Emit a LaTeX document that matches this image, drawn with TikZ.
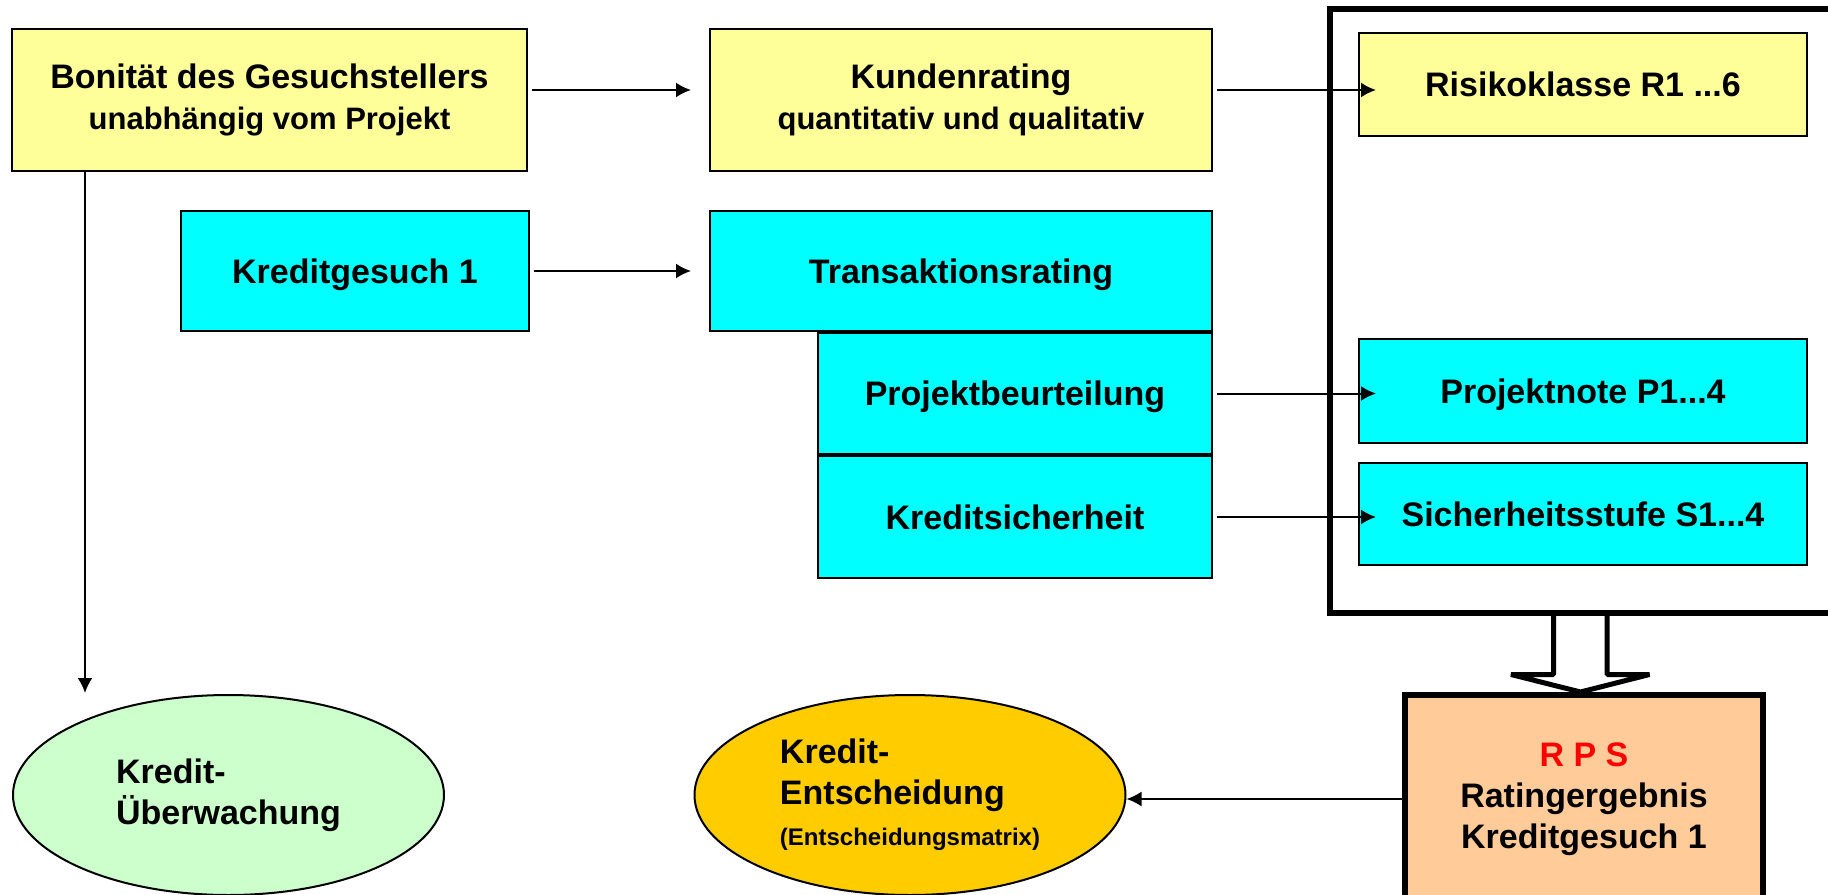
\documentclass[tikz,border=0pt]{standalone}
\usepackage{fontspec}
\setmainfont{Liberation Sans}
\usetikzlibrary{arrows.meta,shapes.geometric}

\definecolor{boxyellow}{HTML}{FFFF99}
\definecolor{boxcyan}{HTML}{00FFFF}
\definecolor{boxpeach}{HTML}{FFCC99}
\definecolor{ovalgreen}{HTML}{CCFFCC}
\definecolor{ovalgold}{HTML}{FFCC00}

\newcommand{\subline}[1]{{\fontsize{15.5}{18}\selectfont #1}}

\tikzset{
  bigfont/.style={font=\bfseries\fontsize{17}{20.5}\selectfont},
  box/.style={draw, line width=1pt, inner sep=0pt, align=center, bigfont},
  oneline/.style={text height=12pt, text depth=0pt},
  ybox/.style={box, fill=boxyellow},
  cbox/.style={box, fill=boxcyan},
  oval/.style={ellipse, draw, line width=1pt, minimum width=215.5pt,
    minimum height=100pt, inner sep=0pt, align=left, bigfont},
  arr/.style={-{Latex[length=7.5pt,width=7.5pt]}, line width=1pt},
}

\begin{document}
\begin{tikzpicture}[x=0.5pt, y=-0.5pt]
  \path[use as bounding box, clip] (0,0) rectangle (1828,895);

  % Kunde
  \node[ybox, minimum width=257.5pt, minimum height=71pt] (bon) at (269.5,100)
    {Bonität des Gesuchstellers\\\subline{unabhängig vom Projekt}};
  \node[ybox, minimum width=251pt, minimum height=71pt] (kund) at (961,100)
    {Kundenrating\\\subline{quantitativ und qualitativ}};
  \node[ybox, oneline, minimum width=224pt, minimum height=51.5pt] (risk) at (1583,84.5)
    {Risikoklasse R1 ...6};

  % Transaktion
  \node[cbox, oneline, minimum width=174pt, minimum height=60pt] (kred) at (355,271) {Kreditgesuch 1};
  \node[cbox, oneline, minimum width=251pt, minimum height=60pt] (trans) at (961,271) {Transaktionsrating};
  \node[cbox, oneline, minimum width=197pt, minimum height=60.5pt, anchor=north east] (proj)
    at (trans.south east) {Projektbeurteilung};
  \node[cbox, oneline, minimum width=197pt, minimum height=61pt, anchor=north east] (sich)
    at (proj.south east) {Kreditsicherheit};
  \node[cbox, oneline, minimum width=224pt, minimum height=52pt] (pnote) at (1583,391) {Projektnote P1...4};
  \node[cbox, oneline, minimum width=224pt, minimum height=51pt] (sstufe) at (1583,514) {Sicherheitsstufe S1...4};

  % Ergebnis
  \node[box, fill=boxpeach, line width=3pt, minimum width=179pt, minimum height=104pt] (rps) at (1584,799)
    {\textcolor{red}{R P S}\\Ratingergebnis\\Kreditgesuch 1};
  \draw[line width=2.5pt, line join=bevel, fill=white] (1553.5,613) -- (1553.5,674.5) -- (1511,674.5)
    -- ([xshift=-1.75pt]rps.north) -- (1649.5,674.5) -- (1607,674.5) -- (1607,613);
  \node[draw, line width=3pt, minimum width=255.25pt, minimum height=302pt] (frame) at (1584.75,311) {};

  \node[oval, fill=ovalgreen] (ueb) at (228.5,795) {Kredit-\\Überwachung};
  \node[oval, fill=ovalgold] (ents) at (910,795)
    {Kredit-\\Entscheidung\\{\fontsize{12}{14}\selectfont(Entscheidungsmatrix)}};

  \coordinate (tip) at (85,693);

  % Pfeile
  \draw[arr, shorten <=2pt, shorten >=9pt] ([yshift=5pt]bon.east) -- ([yshift=5pt]bon.east -| kund.west);
  \draw[arr, shorten <=2pt, shorten >=-9pt] ([yshift=5pt]kund.east) -- ([yshift=5pt]kund.east -| risk.west);
  \draw[arr, shorten <=2pt, shorten >=9pt] (kred) -- (trans);
  \draw[arr, shorten <=2pt, shorten >=-9pt] (proj.east) -- (proj.east -| pnote.west);
  \draw[arr, shorten <=2pt, shorten >=-9pt] (sich.east) -- (sich.east -| sstufe.west);
  \draw[arr] (bon.south -| tip) -- (tip);
  \draw[arr, shorten <=-2.5pt] (rps.west) -- (rps.west -| ents.east);
\end{tikzpicture}
\end{document}
